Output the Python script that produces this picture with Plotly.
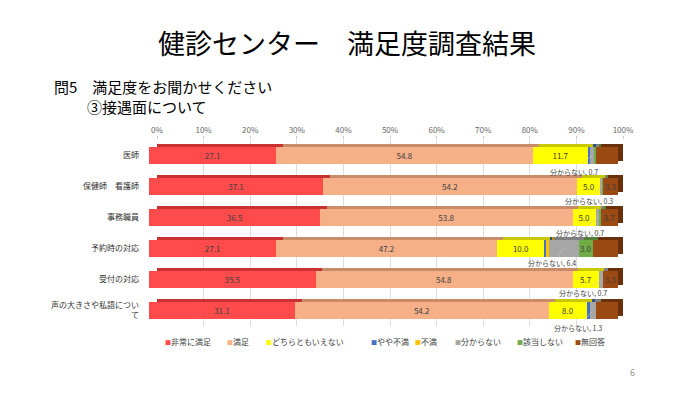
import plotly.graph_objects as go

categories = ["医師", "保健師　看護師", "事務職員", "予約時の対応", "受付の対応", "声の大きさや私語につい<br>て"]
series_names = ["非常に満足", "満足", "どちらともいえない", "やや不満", "不満", "分からない", "該当しない", "無回答"]
colors = ["#FF4B4B", "#F6B088", "#FFFF00", "#4472C4", "#FFC000", "#A6A6A6", "#70AD47", "#9A4A12"]
edge_colors = ["#C83232", "#C88C6A", "#C8C800", "#2F528F", "#BF9000", "#7F7F7F", "#548235", "#6A300A"]

very_satisfied = [27.1, 37.1, 36.5, 27.1, 35.5, 31.1]
satisfied = [54.8, 54.2, 53.8, 47.2, 54.8, 54.2]
neutral = [11.7, 5.0, 5.0, 10.0, 5.7, 8.0]
slightly_dissatisfied = [0.5, 0.0, 0.0, 0.5, 0.0, 0.7]
dissatisfied = [0.0, 0.0, 0.0, 0.4, 0.0, 0.0]
unknown = [0.7, 0.3, 0.7, 6.4, 0.7, 1.3]
not_applicable = [0.5, 0.1, 0.3, 3.0, 0.0, 0.0]
no_answer = [4.7, 3.3, 3.7, 5.4, 3.3, 4.7]

values = [very_satisfied, satisfied, neutral, slightly_dissatisfied,
          dissatisfied, unknown, not_applicable, no_answer]
label_min = [3, 3, 3, 99, 99, 99, 2, 2]

FONT = "Noto Sans CJK JP"
OFF = 8  # page body margin
W, H = 700, 393
# screen pixel geometry (as seen in the page)
BAR_X0, BAR_X1 = 149, 618      # front face of the bars, 0..100
GRID_X0, GRID_X1 = 157, 623    # back wall gridlines, 0..100
TOP, PH = 140, 186
PAPER_X0, PAPER_X1 = 149, 626
PW = PAPER_X1 - PAPER_X0
NCAT = len(categories)
DEPTH_UP = 3 / (PH / NCAT)     # 3px lift of the top face, in category units

L = PAPER_X0 - OFF
R = W - L - PW
T = TOP - OFF
B = H - T - PH


def px_x(px):
    return (px - PAPER_X0) / PW


def px_y(py):
    return (TOP + PH - py) / PH


fig = go.Figure()

# back-wall grid subplot (drawn first, underneath)
fig.add_trace(go.Scatter(x=[0, 100], y=[0, 1], mode="markers",
                         marker=dict(opacity=0), showlegend=False,
                         hoverinfo="skip", xaxis="x", yaxis="y"))

# 3D top/side faces: same data, darker, set back and lifted
for name, col, vals in zip(series_names, edge_colors, values):
    fig.add_trace(go.Bar(
        y=categories, x=vals, name=name, orientation="h",
        xaxis="x2", yaxis="y2", marker=dict(color=col, line=dict(width=0)),
        hoverinfo="skip", showlegend=False,
    ))

# front faces
for name, col, vals, mn in zip(series_names, colors, values, label_min):
    txt = [f"{v:.1f}" if v >= mn else "" for v in vals]
    fig.add_trace(go.Bar(
        y=categories, x=vals, name=name, orientation="h",
        xaxis="x3", yaxis="y3",
        marker=dict(color=col, line=dict(width=0)),
        text=txt, textposition="inside", insidetextanchor="middle",
        textfont=dict(size=8, color="#404040", family=FONT),
        constraintext="none", cliponaxis=False,
        textangle=0, hoverinfo="x+name", showlegend=False,
    ))

# leader-line labels for 分からない
text_cx = [574, 589, 580, 552, 583, 578]
text_dy = [16, 14, 15, 14, 13, 17]
for i, cat in enumerate(categories):
    start = sum(values[k][i] for k in range(5))
    xc = start + unknown[i] / 2
    tip_px = BAR_X0 + xc / 100 * (BAR_X1 - BAR_X0)
    fig.add_annotation(
        x=xc, y=cat, xref="x3", yref="y3",
        text=f"分からない, {unknown[i]:.1f}",
        showarrow=True, arrowhead=0, arrowwidth=0.6, arrowcolor="#C8C8C8",
        ax=text_cx[i] - tip_px, ay=text_dy[i], standoff=0,
        font=dict(size=7, color="#444444", family=FONT),
    )

# legend drawn as text items
legend_x = [163, 225, 264, 369, 413, 453, 515, 573]
for name, col, lx in zip(series_names, colors, legend_x):
    fig.add_annotation(
        text=f"<span style='color:{col};font-size:6px'>■</span>{name}",
        xref="paper", yref="paper", x=px_x(lx), y=px_y(341),
        xanchor="left", yanchor="middle", showarrow=False,
        font=dict(size=8, color="#404040", family=FONT),
    )

fig.update_layout(
    barmode="stack",
    width=W, height=H,
    paper_bgcolor="white", plot_bgcolor="rgba(0,0,0,0)",
    margin=dict(l=L, r=R, t=T, b=B, autoexpand=False),
    bargap=0.48,
    font=dict(family=FONT, color="#333333"),
    xaxis=dict(domain=[px_x(GRID_X0), px_x(GRID_X1)], range=[0, 100], dtick=10,
               ticksuffix="%", side="top", anchor="y",
               showgrid=True, gridcolor="#DDDDDD", gridwidth=1,
               tickfont=dict(size=8, color="#666666"), zeroline=False,
               ticks="outside", ticklen=3, tickcolor="#CCCCCC",
               showline=False, automargin=False, fixedrange=True),
    yaxis=dict(domain=[0, 1], range=[0, 1], visible=False, fixedrange=True),
    xaxis2=dict(domain=[px_x(GRID_X0), px_x(GRID_X1)], range=[0, 100], anchor="y2",
                visible=False, showgrid=False, zeroline=False),
    yaxis2=dict(domain=[0, 1], anchor="x2", visible=False, showgrid=False,
                range=[NCAT - 0.5 + DEPTH_UP, -0.5 + DEPTH_UP]),
    xaxis3=dict(domain=[px_x(BAR_X0), px_x(BAR_X1)], range=[0, 100], anchor="y3",
                visible=False, showgrid=False, zeroline=False),
    yaxis3=dict(domain=[0, 1], anchor="x3", range=[NCAT - 0.5, -0.5],
                tickfont=dict(size=8, color="#333333"),
                showgrid=False, ticks="", ticklabelstandoff=9, automargin=False),
    showlegend=False,
)

fig.add_annotation(text="健診センター　満足度調査結果", xref="paper", yref="paper",
                   x=px_x(347), y=px_y(42), xanchor="center", yanchor="middle",
                   showarrow=False, font=dict(size=27, color="#000000", family=FONT))
fig.add_annotation(text="問5　満足度をお聞かせください", xref="paper", yref="paper",
                   x=px_x(52), y=px_y(86), xanchor="left", yanchor="middle",
                   showarrow=False, font=dict(size=15, color="#000000", family=FONT))
fig.add_annotation(text="③接遇面について", xref="paper", yref="paper",
                   x=px_x(85), y=px_y(107), xanchor="left", yanchor="middle",
                   showarrow=False, font=dict(size=15, color="#000000", family=FONT))
fig.add_annotation(text="6", xref="paper", yref="paper",
                   x=px_x(632), y=px_y(372), xanchor="center", yanchor="middle",
                   showarrow=False, font=dict(size=9, color="#999999", family=FONT))

fig.write_html("out.html")
